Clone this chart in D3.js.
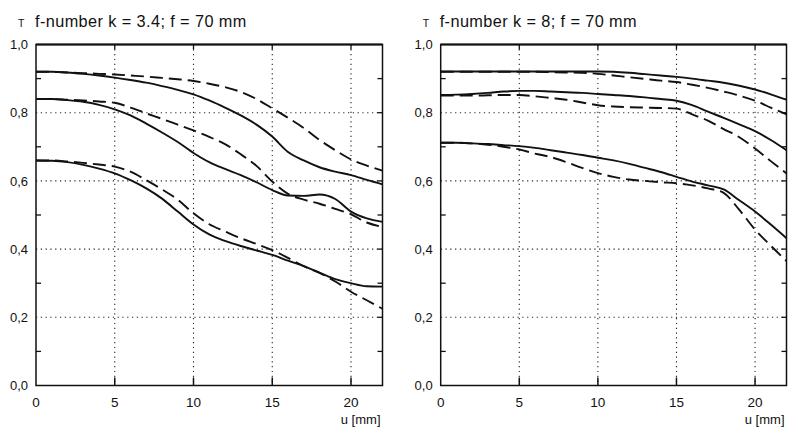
<!DOCTYPE html>
<html><head><meta charset="utf-8">
<script src="https://cdn.jsdelivr.net/npm/d3@7"></script>
<style>body{margin:0;background:#fff}svg{display:block}text{font-family:"Liberation Sans",Arial,sans-serif;fill:#111}</style>
</head><body>
<svg id="c" width="798" height="433"></svg>
<script>
const uVals = [0,1,2,3,4,5,6,7,8,9,10,11,12,13,14,15,16,17,18,19,20,21,22];
const xTicks = [0,5,10,15,20];
const yTicks = [0,0.2,0.4,0.6,0.8,1.0];
const yTickLabels = ["0,0","0,2","0,4","0,6","0,8","1,0"];
const yMinor = [0.1,0.3,0.5,0.7,0.9];
const titles = ["f-number k = 3.4; f = 70 mm","f-number k = 8; f = 70 mm"];

// left panel (k = 3.4)
const L_A_solid  = [.92,.92,.918,.914,.909,.903,.896,.888,.878,.867,.854,.836,.815,.792,.765,.73,.685,.66,.64,.627,.617,.603,.59];
const L_A_dashed = [.92,.92,.918,.916,.914,.912,.909,.906,.902,.898,.893,.885,.875,.861,.84,.813,.785,.755,.72,.69,.663,.645,.63];
const L_B_solid  = [.84,.84,.837,.832,.823,.81,.792,.768,.742,.714,.682,.655,.635,.617,.596,.573,.557,.556,.56,.547,.51,.49,.48];
const L_B_dashed = [.84,.84,.838,.836,.833,.829,.815,.798,.782,.765,.748,.729,.708,.678,.644,.598,.562,.545,.533,.518,.502,.478,.465];
const L_C_solid  = [.66,.659,.655,.647,.636,.622,.602,.578,.548,.51,.472,.443,.424,.409,.396,.383,.366,.35,.331,.312,.3,.291,.29];
const L_C_dashed = [.66,.66,.657,.653,.648,.642,.627,.602,.575,.545,.505,.473,.452,.432,.415,.397,.374,.35,.33,.305,.275,.25,.225];

// right panel (k = 8)
const R_A_solid  = [.921,.921,.921,.921,.921,.921,.921,.921,.921,.921,.921,.92,.917,.913,.909,.905,.9,.894,.888,.879,.868,.854,.838];
const R_A_dashed = [.92,.92,.92,.92,.92,.92,.92,.919,.918,.917,.914,.909,.904,.899,.894,.89,.882,.873,.862,.85,.835,.815,.795];
const R_B_solid  = [.852,.853,.855,.858,.862,.864,.864,.862,.86,.858,.855,.852,.849,.845,.84,.835,.822,.803,.785,.766,.746,.72,.69];
const R_B_dashed = [.85,.85,.85,.851,.852,.852,.848,.843,.838,.83,.822,.818,.816,.815,.814,.812,.795,.777,.752,.728,.695,.658,.622];
const R_C_solid  = [.712,.712,.71,.708,.705,.702,.697,.69,.683,.676,.668,.66,.65,.638,.626,.612,.598,.587,.575,.543,.51,.472,.432];
const R_C_dashed = [.712,.712,.71,.706,.7,.692,.68,.67,.655,.638,.623,.612,.604,.6,.596,.593,.587,.578,.565,.515,.457,.41,.365];

const panels = [
  {x0:36, x1:382.5, series:[[L_A_solid,false],[L_A_dashed,true],[L_B_solid,false],[L_B_dashed,true],[L_C_solid,false],[L_C_dashed,true]]},
  {x0:440.7, x1:786.5, series:[[R_A_solid,false],[R_A_dashed,true],[R_B_solid,false],[R_B_dashed,true],[R_C_solid,false],[R_C_dashed,true]]}
];
const yTop = 44.5, yBot = 385.5;
const svg = d3.select("#c");

panels.forEach((p, pi) => {
  const x = d3.scaleLinear().domain([0,22]).range([p.x0, p.x1]);
  const y = d3.scaleLinear().domain([0,1]).range([yBot, yTop]);
  const g = svg.append("g");
  // grid
  g.selectAll(".gx").data(xTicks.filter(d=>d>0)).join("line")
    .attr("x1", d=>x(d)).attr("x2", d=>x(d)).attr("y1", yTop).attr("y2", yBot)
    .attr("stroke","#222").attr("stroke-width",1.1).attr("stroke-dasharray","1.2,3.6");
  g.selectAll(".gy").data(yTicks.filter(d=>d>0&&d<1)).join("line")
    .attr("x1", p.x0).attr("x2", p.x1).attr("y1", d=>y(d)).attr("y2", d=>y(d))
    .attr("stroke","#222").attr("stroke-width",1.1).attr("stroke-dasharray","1.2,3.6");
  // minor ticks left/right
  yMinor.forEach(v => {
    g.append("line").attr("x1",p.x0).attr("x2",p.x0+5).attr("y1",y(v)).attr("y2",y(v)).attr("stroke","#111").attr("stroke-width",1.3);
    g.append("line").attr("x1",p.x1).attr("x2",p.x1-5).attr("y1",y(v)).attr("y2",y(v)).attr("stroke","#111").attr("stroke-width",1.3);
  });
  yTicks.filter(d=>d>0&&d<1).forEach(v => {
    g.append("line").attr("x1",p.x1).attr("x2",p.x1-5).attr("y1",y(v)).attr("y2",y(v)).attr("stroke","#111").attr("stroke-width",1.3);
  });
  // x ticks bottom & top
  xTicks.filter(d=>d>0).forEach(v => {
    g.append("line").attr("x1",x(v)).attr("x2",x(v)).attr("y1",yBot).attr("y2",yBot-8).attr("stroke","#111").attr("stroke-width",1.5);
    g.append("line").attr("x1",x(v)).attr("x2",x(v)).attr("y1",yTop).attr("y2",yTop+5).attr("stroke","#111").attr("stroke-width",1.3);
  });
  // frame
  g.append("rect").attr("x",p.x0).attr("y",yTop).attr("width",p.x1-p.x0).attr("height",yBot-yTop)
    .attr("fill","none").attr("stroke","#111").attr("stroke-width",1.5);
  g.append("line").attr("x1",p.x0).attr("x2",p.x1).attr("y1",yTop).attr("y2",yTop).attr("stroke","#111").attr("stroke-width",2);
  // y tick labels
  g.selectAll(".yl").data(yTicks).join("text")
    .attr("x", p.x0-8).attr("y", d=>y(d)).attr("dy","0.36em").attr("text-anchor","end")
    .attr("font-size",13).attr("font-family","DejaVu Sans")
    .text((d,i)=>yTickLabels[i]);
  // x tick labels
  g.selectAll(".xl").data(xTicks).join("text")
    .attr("x", d=>x(d)).attr("y", 407).attr("text-anchor","middle")
    .attr("font-size",13.5).attr("font-family","DejaVu Sans").text(d=>d);
  g.append("text").attr("x", p.x1-2).attr("y", 424).attr("text-anchor","end").attr("font-size",13).text("u [mm]");
  // title
  g.append("text").attr("x", p.x0-18).attr("y", 27).attr("font-size",10.5).text("T");
  g.append("text").attr("x", p.x0-1).attr("y", 27.3).attr("font-size",16.3).attr("letter-spacing","0.4px").text(titles[pi]);
  // curves
  const line = d3.line().x((d,i)=>x(uVals[i])).y(d=>y(d)).curve(d3.curveMonotoneX);
  p.series.forEach(([vals, dashed]) => {
    g.append("path").attr("d", line(vals)).attr("fill","none").attr("stroke","#111")
      .attr("stroke-width", 1.9).attr("stroke-dasharray", dashed ? "13,6" : null);
  });
});
</script>
</body></html>
